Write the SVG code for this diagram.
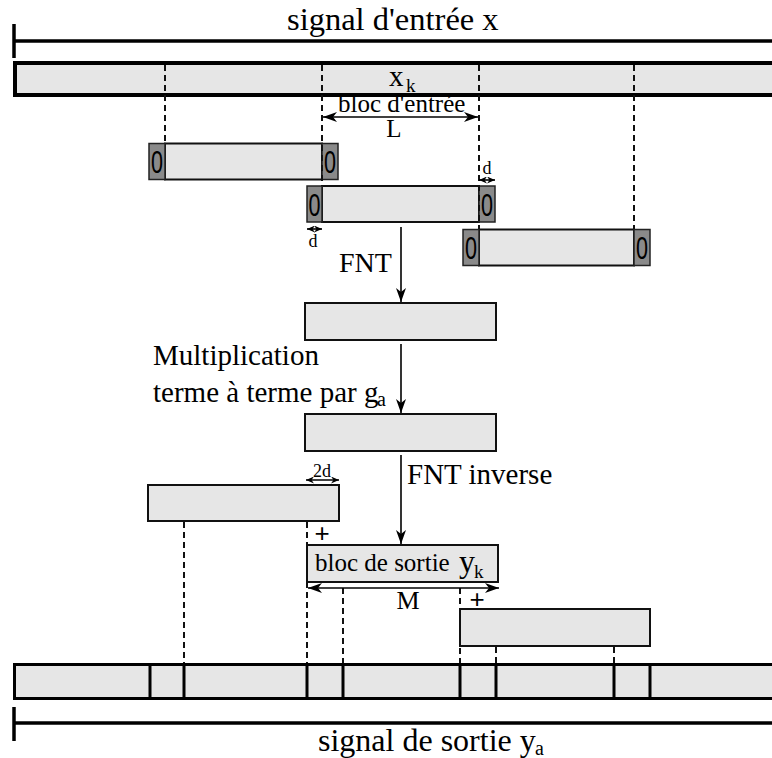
<svg xmlns="http://www.w3.org/2000/svg" width="772" height="758" viewBox="0 0 772 758">
<style>
text{font-family:"Liberation Serif","Times New Roman",serif;fill:#000}
.bar{fill:#e6e6e6;stroke:#000}
.blk{fill:#e6e6e6;stroke:#111;stroke-width:2}
.pad{fill:#8a8a8a;stroke:#222;stroke-width:1.5}
.zero{font-family:"Liberation Sans",Arial,sans-serif;font-size:32px;text-anchor:middle}
.plus{font-family:"Liberation Sans",Arial,sans-serif;font-size:26px;text-anchor:middle}
.dash{stroke:#111;stroke-width:2;stroke-dasharray:6 4;fill:none}
.ln{stroke:#000;stroke-width:1.6;fill:none}
.thick{stroke:#000;stroke-width:3.5;fill:none}
.sep{stroke:#000;stroke-width:3}
</style>
<defs>
<marker id="ah" viewBox="0 0 14 10" refX="14" refY="5" markerWidth="14" markerHeight="10" markerUnits="userSpaceOnUse" orient="auto-start-reverse"><path d="M0,0 L14,5 L0,10 L4,5 z" fill="#000"/></marker>
<marker id="as" viewBox="0 0 8 7" refX="8" refY="3.5" markerWidth="8" markerHeight="7" markerUnits="userSpaceOnUse" orient="auto-start-reverse"><path d="M0,0 L8,3.5 L0,7 L2.5,3.5 z" fill="#000"/></marker>
</defs>

<g id="input-signal">
<line class="thick" x1="14" y1="41" x2="772" y2="41"/>
<line class="thick" x1="14" y1="24" x2="14" y2="58"/>
<text x="287" y="30" font-size="32.5">signal d'entrée x</text>
</g>

<g id="input-bar">
<rect class="bar" x="15" y="63" width="800" height="32" stroke-width="4"/>
<text x="389" y="86" font-size="29">x</text>
<text x="406" y="92" font-size="19">k</text>
</g>

<g id="block1">
<rect class="blk" x="165" y="143.5" width="157" height="36"/>
<rect class="pad" x="149" y="143.5" width="16" height="36"/>
<rect class="pad" x="322" y="143.5" width="16" height="36"/>
<text class="zero" x="157" y="173" textLength="12" lengthAdjust="spacingAndGlyphs">0</text>
<text class="zero" x="330" y="173" textLength="12" lengthAdjust="spacingAndGlyphs">0</text>
</g>

<g id="block2">
<rect class="blk" x="322" y="186" width="157" height="36"/>
<rect class="pad" x="307" y="186" width="15" height="36"/>
<rect class="pad" x="479" y="186" width="16" height="36"/>
<text class="zero" x="314.5" y="215.5" textLength="12" lengthAdjust="spacingAndGlyphs">0</text>
<text class="zero" x="487" y="215.5" textLength="12" lengthAdjust="spacingAndGlyphs">0</text>
</g>

<g id="block3">
<rect class="blk" x="479" y="229.5" width="155" height="36"/>
<rect class="pad" x="463" y="229.5" width="16" height="36"/>
<rect class="pad" x="634" y="229.5" width="16" height="36"/>
<text class="zero" x="471" y="259" textLength="12" lengthAdjust="spacingAndGlyphs">0</text>
<text class="zero" x="642" y="259" textLength="12" lengthAdjust="spacingAndGlyphs">0</text>
</g>

<g id="fnt-block">
<rect class="blk" x="305" y="303" width="191" height="37"/>
</g>

<g id="mult-block">
<rect class="blk" x="305" y="414" width="191" height="37"/>
</g>

<g id="prev-output">
<rect class="blk" x="148" y="485" width="191" height="36"/>
</g>

<g id="output-block">
<rect class="blk" x="307" y="545" width="191" height="37"/>
<text x="315" y="571" font-size="25">bloc de sortie</text>
<text x="459" y="572" font-size="32">y</text>
<text x="474" y="578" font-size="19">k</text>
</g>

<g id="next-output">
<rect class="blk" x="460" y="609" width="190" height="37"/>
</g>

<g id="output-bar">
<rect class="bar" x="14.5" y="664.5" width="800" height="34" stroke-width="3"/>
<line class="sep" x1="150" y1="664" x2="150" y2="699"/>
<line class="sep" x1="184" y1="664" x2="184" y2="699"/>
<line class="sep" x1="307" y1="664" x2="307" y2="699"/>
<line class="sep" x1="343" y1="664" x2="343" y2="699"/>
<line class="sep" x1="460" y1="664" x2="460" y2="699"/>
<line class="sep" x1="496" y1="664" x2="496" y2="699"/>
<line class="sep" x1="614" y1="664" x2="614" y2="699"/>
<line class="sep" x1="650" y1="664" x2="650" y2="699"/>
</g>

<g id="output-signal">
<line class="thick" x1="14" y1="723" x2="772" y2="723"/>
<line class="thick" x1="14" y1="707" x2="14" y2="741"/>
<text x="318" y="751" font-size="32">signal de sortie y</text>
<text x="535" y="755" font-size="20">a</text>
</g>

<g id="labels">
<text x="338" y="112" font-size="25">bloc d'entrée</text>
<text x="394" y="137" font-size="25" text-anchor="middle">L</text>
<text x="487" y="174" font-size="18" text-anchor="middle">d</text>
<text x="313" y="247" font-size="18" text-anchor="middle">d</text>
<text x="339" y="272" font-size="28">FNT</text>
<text x="153" y="365" font-size="29">Multiplication</text>
<text x="153" y="402" font-size="29">terme à terme par g</text>
<text x="377" y="406" font-size="20">a</text>
<text x="407" y="484" font-size="29">FNT inverse</text>
<text x="322" y="477" font-size="18" text-anchor="middle">2d</text>
<text class="plus" x="322" y="542">+</text>
<text class="plus" x="477" y="608">+</text>
<text x="408" y="609" font-size="26" text-anchor="middle">M</text>
</g>

<g id="connectors">
<line class="dash" x1="165" y1="65" x2="165" y2="143"/>
<line class="dash" x1="322" y1="65" x2="322" y2="186"/>
<line class="dash" x1="479" y1="65" x2="479" y2="229"/>
<line class="dash" x1="634" y1="65" x2="634" y2="229"/>
<line class="dash" x1="184" y1="522" x2="184" y2="663"/>
<line class="dash" x1="307" y1="522" x2="307" y2="663"/>
<line class="dash" x1="343" y1="588" x2="343" y2="663"/>
<line class="dash" x1="460" y1="588" x2="460" y2="663"/>
<line class="dash" x1="496" y1="647" x2="496" y2="663"/>
<line class="dash" x1="614" y1="647" x2="614" y2="663"/>
<line class="ln" x1="323" y1="117" x2="478" y2="117" marker-start="url(#ah)" marker-end="url(#ah)"/>
<line class="ln" x1="479" y1="180" x2="495" y2="180" marker-start="url(#as)" marker-end="url(#as)"/>
<line class="ln" x1="307" y1="229" x2="322" y2="229" marker-start="url(#as)" marker-end="url(#as)"/>
<line class="ln" x1="306" y1="480" x2="339" y2="480" marker-start="url(#as)" marker-end="url(#as)"/>
<line class="ln" x1="308" y1="588" x2="499" y2="588" marker-start="url(#ah)" marker-end="url(#ah)"/>
<line class="ln" x1="401" y1="227" x2="401" y2="302" marker-end="url(#ah)"/>
<line class="ln" x1="401" y1="344" x2="401" y2="413" marker-end="url(#ah)"/>
<line class="ln" x1="401" y1="455" x2="401" y2="544" marker-end="url(#ah)"/>
</g>
</svg>
